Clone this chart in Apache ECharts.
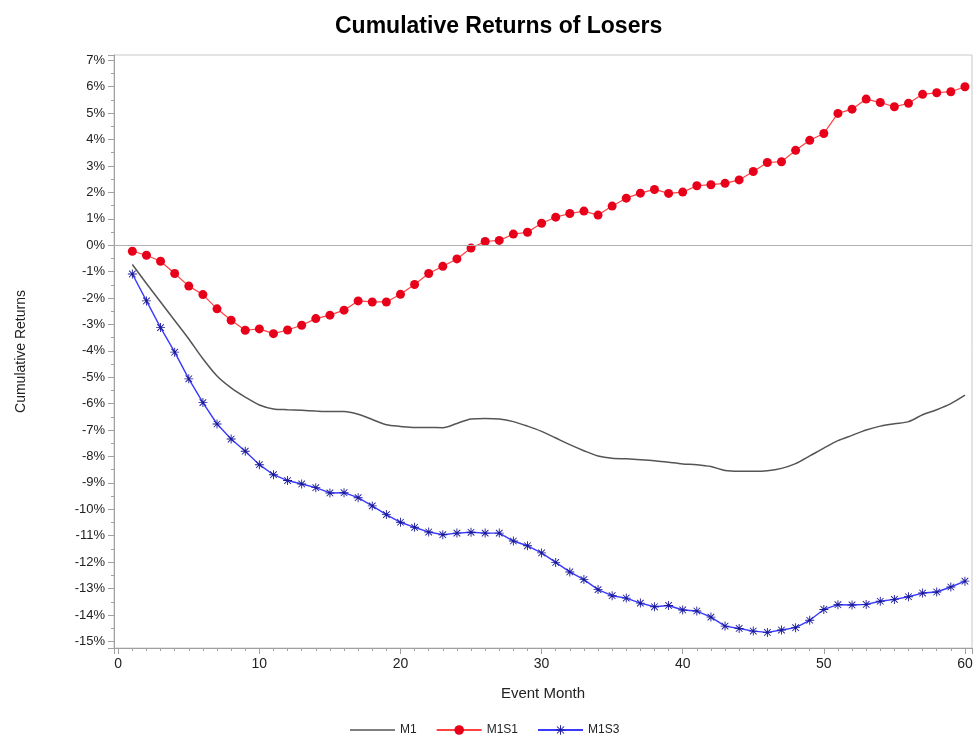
<!DOCTYPE html>
<html>
<head>
<meta charset="utf-8">
<title>Cumulative Returns of Losers</title>
<script src="https://cdn.jsdelivr.net/npm/echarts@6/dist/echarts.min.js"></script>
<style>
html, body { margin: 0; padding: 0; background: #fff; }
#chart { width: 979px; height: 739px; }
</style>
</head>
<body>
<div id="chart"></div>
<script>
// event months
var months = [1,2,3,4,5,6,7,8,9,10,11,12,13,14,15,16,17,18,19,20,
  21,22,23,24,25,26,27,28,29,30,31,32,33,34,35,36,37,38,39,40,
  41,42,43,44,45,46,47,48,49,50,51,52,53,54,55,56,57,58,59,60];

// cumulative returns, in %
var m1 = [-0.73,-1.45,-2.15,-2.85,-3.55,-4.30,-4.95,-5.40,-5.75,-6.05,
  -6.20,-6.23,-6.25,-6.28,-6.30,-6.30,-6.40,-6.60,-6.80,-6.86,
  -6.90,-6.90,-6.91,-6.75,-6.58,-6.56,-6.58,-6.68,-6.85,-7.05,
  -7.30,-7.55,-7.78,-7.98,-8.07,-8.09,-8.12,-8.16,-8.22,-8.28,
  -8.31,-8.38,-8.53,-8.56,-8.56,-8.54,-8.45,-8.27,-7.98,-7.68,
  -7.40,-7.20,-7.00,-6.85,-6.76,-6.68,-6.42,-6.23,-6.00,-5.68];

var m1s1 = [-0.23,-0.38,-0.61,-1.07,-1.55,-1.87,-2.41,-2.84,-3.22,-3.17,
  -3.35,-3.21,-3.03,-2.78,-2.65,-2.46,-2.11,-2.15,-2.15,-1.86,
  -1.49,-1.07,-0.80,-0.52,-0.11,0.14,0.18,0.42,0.49,0.83,
  1.06,1.20,1.29,1.14,1.48,1.78,1.97,2.11,1.96,2.01,
  2.25,2.29,2.34,2.47,2.79,3.13,3.16,3.59,3.97,4.23,
  4.99,5.15,5.53,5.40,5.24,5.37,5.71,5.77,5.81,6.00];

var m1s3 = [-1.09,-2.11,-3.12,-4.05,-5.06,-5.96,-6.77,-7.34,-7.80,-8.31,
  -8.69,-8.91,-9.04,-9.18,-9.38,-9.37,-9.56,-9.87,-10.20,-10.49,
  -10.68,-10.86,-10.96,-10.90,-10.87,-10.90,-10.90,-11.20,-11.38,-11.65,
  -12.01,-12.37,-12.66,-13.04,-13.27,-13.36,-13.55,-13.69,-13.64,-13.81,
  -13.85,-14.08,-14.42,-14.51,-14.61,-14.66,-14.57,-14.48,-14.20,-13.79,
  -13.61,-13.62,-13.60,-13.48,-13.41,-13.31,-13.17,-13.13,-12.94,-12.72];

function pairs(vals) {
  var out = [];
  for (var i = 0; i < months.length; i++) out.push([months[i], vals[i]]);
  return out;
}

// asterisk marker like the SAS "star" symbol
var starPath = 'path://M4.5,0L5.5,0L5.5,10L4.5,10Z M0,4.5L10,4.5L10,5.5L0,5.5Z ' +
  'M1,1.7L1.7,1L9,8.3L8.3,9Z M8.3,1L9,1.7L1.7,9L1,8.3Z';
// plain thin line for the M1 legend entry
var linePath = 'path://M0,0L45,0L45,1.5L0,1.5Z';

var font = 'Liberation Sans, Arial, sans-serif';
var chart = echarts.init(document.getElementById('chart'));

var option = {
  animation: false,
  backgroundColor: '#fff',
  title: {
    text: 'Cumulative Returns of Losers',
    left: 330,
    top: 10,
    textStyle: { fontFamily: font, fontSize: 23, fontWeight: 'bold', color: '#000' }
  },
  legend: {
    left: 345,
    top: 719,
    itemWidth: 45,
    itemHeight: 12,
    itemGap: 19,
    textStyle: { fontFamily: font, fontSize: 12, color: '#222' },
    data: [
      { name: 'M1', icon: linePath, itemStyle: { color: '#555' } },
      'M1S1',
      'M1S3'
    ]
  },
  grid: {
    left: 114, right: 7, top: 55, bottom: 91,
    show: true,
    borderColor: '#c8c8c8',
    borderWidth: 1
  },
  xAxis: {
    type: 'value',
    min: -0.3,
    max: 60.5,
    minInterval: 10,
    maxInterval: 10,
    name: 'Event Month',
    nameLocation: 'middle',
    nameGap: 38,
    nameTextStyle: { fontFamily: font, fontSize: 15, color: '#222' },
    axisLine: { onZero: false, lineStyle: { color: '#a0a0a0' } },
    axisTick: { length: 6, lineStyle: { color: '#a0a0a0' } },
    minorTick: { show: true, splitNumber: 10, length: 3, lineStyle: { color: '#a0a0a0' } },
    splitLine: { show: false },
    axisLabel: {
      fontFamily: font, fontSize: 14, color: '#222', margin: 9,
      formatter: function (v) { return Number.isInteger(v) ? String(v) : ''; }
    }
  },
  yAxis: {
    type: 'value',
    min: -15.25,
    max: 7.2,
    minInterval: 1,
    maxInterval: 1,
    name: 'Cumulative Returns',
    nameLocation: 'middle',
    nameGap: 86,
    nameTextStyle: { fontFamily: font, fontSize: 14, color: '#222' },
    axisLine: { show: true, onZero: false, lineStyle: { color: '#a0a0a0' } },
    axisTick: { show: true, length: 6, lineStyle: { color: '#a0a0a0' } },
    minorTick: { show: true, splitNumber: 2, length: 3, lineStyle: { color: '#a0a0a0' } },
    splitLine: { show: false },
    axisLabel: {
      fontFamily: font, fontSize: 13, color: '#222', margin: 9,
      formatter: function (v) { return Number.isInteger(v) ? v + '%' : ''; }
    }
  },
  series: [
    {
      name: 'M1',
      type: 'line',
      data: pairs(m1),
      showSymbol: false,
      symbol: 'none',
      symbolKeepAspect: true,
      smooth: 0.3,
      lineStyle: { color: '#555', width: 1.5 },
      itemStyle: { color: '#555' },
      markLine: {
        silent: true,
        symbol: 'none',
        label: { show: false },
        lineStyle: { color: '#b0b0b0', width: 1, type: 'solid' },
        data: [{ yAxis: 0 }]
      },
      z: 2
    },
    {
      name: 'M1S1',
      type: 'line',
      data: pairs(m1s1),
      symbol: 'circle',
      symbolSize: 9,
      lineStyle: { color: '#ff4040', width: 1.2 },
      itemStyle: { color: '#e8001a' },
      z: 3
    },
    {
      name: 'M1S3',
      type: 'line',
      data: pairs(m1s3),
      symbol: starPath,
      symbolSize: 9,
      lineStyle: { color: '#3a3aff', width: 1.4 },
      itemStyle: { color: '#1a1a9a' },
      z: 3
    }
  ]
};

chart.setOption(option);
</script>
</body>
</html>
